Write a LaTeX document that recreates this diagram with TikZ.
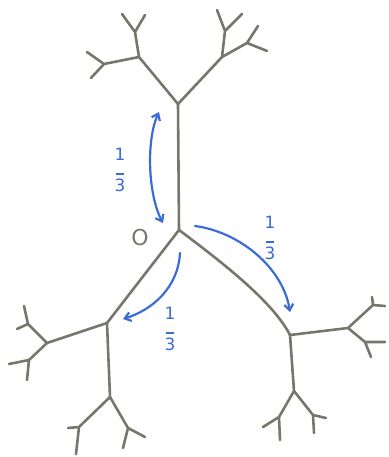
\documentclass[tikz,border=0pt]{standalone}
\usepackage{fontspec}
\setmainfont{DejaVu Sans}
\usetikzlibrary{arrows.meta}
\definecolor{branch}{RGB}{118,118,108}
\definecolor{pen}{RGB}{58,108,212}
\newcommand{\onethird}{1\\[-3pt]\rule{9pt}{2pt}\\[-1pt]3}
\begin{document}
\begin{tikzpicture}[x=1bp,y=-1bp,
  br/.style={draw=branch,line width=2.6pt,line cap=round,line join=round},
  arr/.style={draw=pen,line width=2.2pt,line cap=round,-{Straight Barb[length=6pt,width=9pt]}},
  frac/.style={text=pen,font=\fontsize{17}{18}\selectfont,inner sep=0pt,align=center}]
\useasboundingbox (0,0) rectangle (388,457);
% junctions
\coordinate (O) at (179,230);
\coordinate (T) at (178,104);
\coordinate (TL) at (139,57);
\coordinate (TLa) at (135,32);
\coordinate (TLa1) at (122,14);
\coordinate (TLa2) at (145,15);
\coordinate (TLb) at (104,64);
\coordinate (TLb1) at (87,52);
\coordinate (TLb2) at (91,78);
\coordinate (TR) at (222,57);
\coordinate (TRa) at (225,31);
\coordinate (TRa1) at (217,10);
\coordinate (TRa2) at (242,14);
\coordinate (TRb) at (247,43);
\coordinate (TRb1) at (258,26);
\coordinate (TRb2) at (267,51);
\coordinate (L) at (107,323);
\coordinate (LL) at (47,343);
\coordinate (LLa) at (28,324);
\coordinate (LLa1) at (24,306);
\coordinate (LLa2) at (17,329);
\coordinate (LLb) at (29,360);
\coordinate (LLb1) at (9,364);
\coordinate (LLb2) at (27,380);
\coordinate (LD) at (110,397);
\coordinate (LDa) at (79,427);
\coordinate (LDa1) at (68,428);
\coordinate (LDa2) at (76,454);
\coordinate (LDb) at (128,428);
\coordinate (LDb1) at (123,448);
\coordinate (LDb2) at (145,437);
\coordinate (R) at (290,335);
\coordinate (RR) at (348,328);
\coordinate (RRa) at (373,305);
\coordinate (RRa1) at (372,297);
\coordinate (RRa2) at (385,306);
\coordinate (RRb) at (365,342);
\coordinate (RRb1) at (385,342);
\coordinate (RRb2) at (371,357);
\coordinate (RD) at (294,391);
\coordinate (RDa) at (279,417);
\coordinate (RDa1) at (263,427);
\coordinate (RDa2) at (280,440);
\coordinate (RDb) at (313,415);
\coordinate (RDb1) at (326,418);
\coordinate (RDb2) at (314,433);
% tree
\path[br] (O) -- (T);
\path[br] (T) -- (TL) (TL) -- (TLa) (TLa) -- (TLa1) (TLa) -- (TLa2)
  (TL) -- (TLb) (TLb) -- (TLb1) (TLb) -- (TLb2);
\path[br] (T) -- (TR) (TR) -- (TRa) (TRa) -- (TRa1) (TRa) -- (TRa2)
  (TR) -- (TRb) (TRb) -- (TRb1) (TRb) -- (TRb2);
\path[br] (O) -- (L) (L) -- (LL) (LL) -- (LLa) (LLa) -- (LLa1) (LLa) -- (LLa2)
  (LL) -- (LLb) (LLb) -- (LLb1) (LLb) -- (LLb2);
\path[br] (L) -- (LD) (LD) -- (LDa) (LDa) -- (LDa1) (LDa) -- (LDa2)
  (LD) -- (LDb) (LDb) -- (LDb1) (LDb) -- (LDb2);
\path[br] (O) .. controls (230,268) and (274,304) .. (R);
\path[br] (R) -- (RR) (RR) -- (RRa) (RRa) -- (RRa1) (RRa) -- (RRa2)
  (RR) -- (RRb) (RRb) -- (RRb1) (RRb) -- (RRb2);
\path[br] (R) -- (RD) (RD) -- (RDa) (RDa) -- (RDa1) (RDa) -- (RDa2)
  (RD) -- (RDb) (RDb) -- (RDb1) (RDb) -- (RDb2);
% labels
\node[text=branch,font=\fontsize{22}{24}\selectfont,inner sep=0pt] (o) at (140,238) {O};
\node[frac] (f1) at (120,170) {\onethird};
\node[frac] (f2) at (270,238) {\onethird};
\node[frac] (f3) at (170,329) {\onethird};
% arrows
\coordinate (a1s) at (163,223);
\coordinate (a1e) at (159,112);
\coordinate (a2s) at (195,226);
\coordinate (a2e) at (290,312);
\coordinate (a3s) at (180,253);
\coordinate (a3e) at (123,319);
\path[arr,{Straight Barb[length=6pt,width=9pt]}-{Straight Barb[length=6pt,width=9pt]}] (a1s) .. controls (148,195) and (146,140) .. (a1e);
\path[arr] (a2s) .. controls (240,232) and (283,268) .. (a2e);
\path[arr] (a3s) .. controls (178,288) and (152,310) .. (a3e);
\end{tikzpicture}
\end{document}
